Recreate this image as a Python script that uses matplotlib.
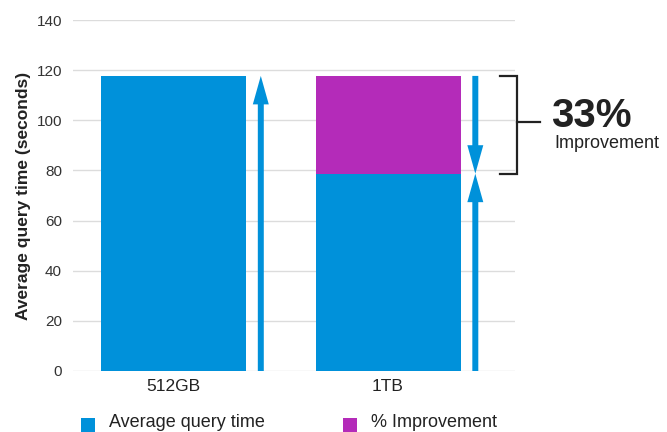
import matplotlib
matplotlib.use("Agg")
import matplotlib.pyplot as plt
from matplotlib.patches import Rectangle

plt.rcParams['font.family'] = ['Liberation Sans', 'DejaVu Sans']

categories = ["512GB", "1TB"]
avg_query_time = [117.7, 78.7]
improvement = [0.0, 39.0]
series_labels = ["Average query time", "% Improvement"]
yticks = [0, 20, 40, 60, 80, 100, 120, 140]
improvement_text = "33%"
improvement_sub = "Improvement"

BLUE = '#0091DA'
PURPLE = '#B42BB9'
DARK = '#222222'

fig = plt.figure(figsize=(6.67, 4.32), dpi=100)
ax = fig.add_axes([73/667, 61/432, 442/667, 351/432])

x = list(range(len(categories)))
bw = 0.676
ax.bar(x, avg_query_time, width=bw, color=BLUE, zorder=2)
ax.bar(x, improvement, width=bw, bottom=avg_query_time, color=PURPLE, zorder=2)

ax.set_xlim(-0.4685, 1.592)
ax.set_ylim(0, 140)
ax.set_yticks(yticks)
ax.set_xticks(x)
ax.set_xticklabels(categories, fontsize=12.5, color=DARK)
ax.tick_params(axis='y', length=0, pad=8, labelsize=11, labelcolor='#333333')
ax.tick_params(axis='x', length=0, pad=6)
for s in ax.spines.values():
    s.set_visible(False)
ax.yaxis.grid(True, color='#dcdcdc', lw=1)
ax.set_axisbelow(True)
ax.set_ylabel("Average query time (seconds)", fontsize=12.5, fontweight='bold', color=DARK, labelpad=4)

def arrow(xp, y0, y1):
    ax.annotate('', xy=(xp, y1), xytext=(xp, y0),
                arrowprops=dict(arrowstyle='simple,head_length=20.5,head_width=11.5,tail_width=4.3',
                                mutation_scale=1, color=BLUE, lw=0, shrinkA=0, shrinkB=0),
                zorder=3)

off = 0.407
tot0 = avg_query_time[0] + improvement[0]
tot1 = avg_query_time[1] + improvement[1]
arrow(x[0] + off, 0, tot0)
arrow(x[1] + off, tot1, avg_query_time[1])
arrow(x[1] + off, 0, avg_query_time[1])

# bracket
bx0, bx1, bx2 = 1.522, 1.601, 1.709
mid = 99.5
ax.plot([bx0, bx1, bx1, bx0], [tot1, tot1, avg_query_time[1], avg_query_time[1]],
        color=DARK, lw=1.6, clip_on=False, solid_joinstyle='miter')
ax.plot([bx1, bx2], [mid, mid], color=DARK, lw=1.6, clip_on=False)

fig.text(551/667, 1 - 116/432, improvement_text, fontsize=29, fontweight='bold',
         color=DARK, va='center', ha='left')
fig.text(554/667, 1 - 143/432, improvement_sub, fontsize=13, color=DARK,
         va='center', ha='left')

# legend
leg_x = [81, 343]
for lx, lab, col in zip(leg_x, series_labels, [BLUE, PURPLE]):
    fig.patches.append(Rectangle((lx/667, 0), 14/667, 14/432, transform=fig.transFigure,
                                 facecolor=col, edgecolor='none'))
    fig.text((lx + 28)/667, 5/432, lab, fontsize=13, color=DARK, va='baseline', ha='left')

fig.savefig('out.png', dpi=100)
